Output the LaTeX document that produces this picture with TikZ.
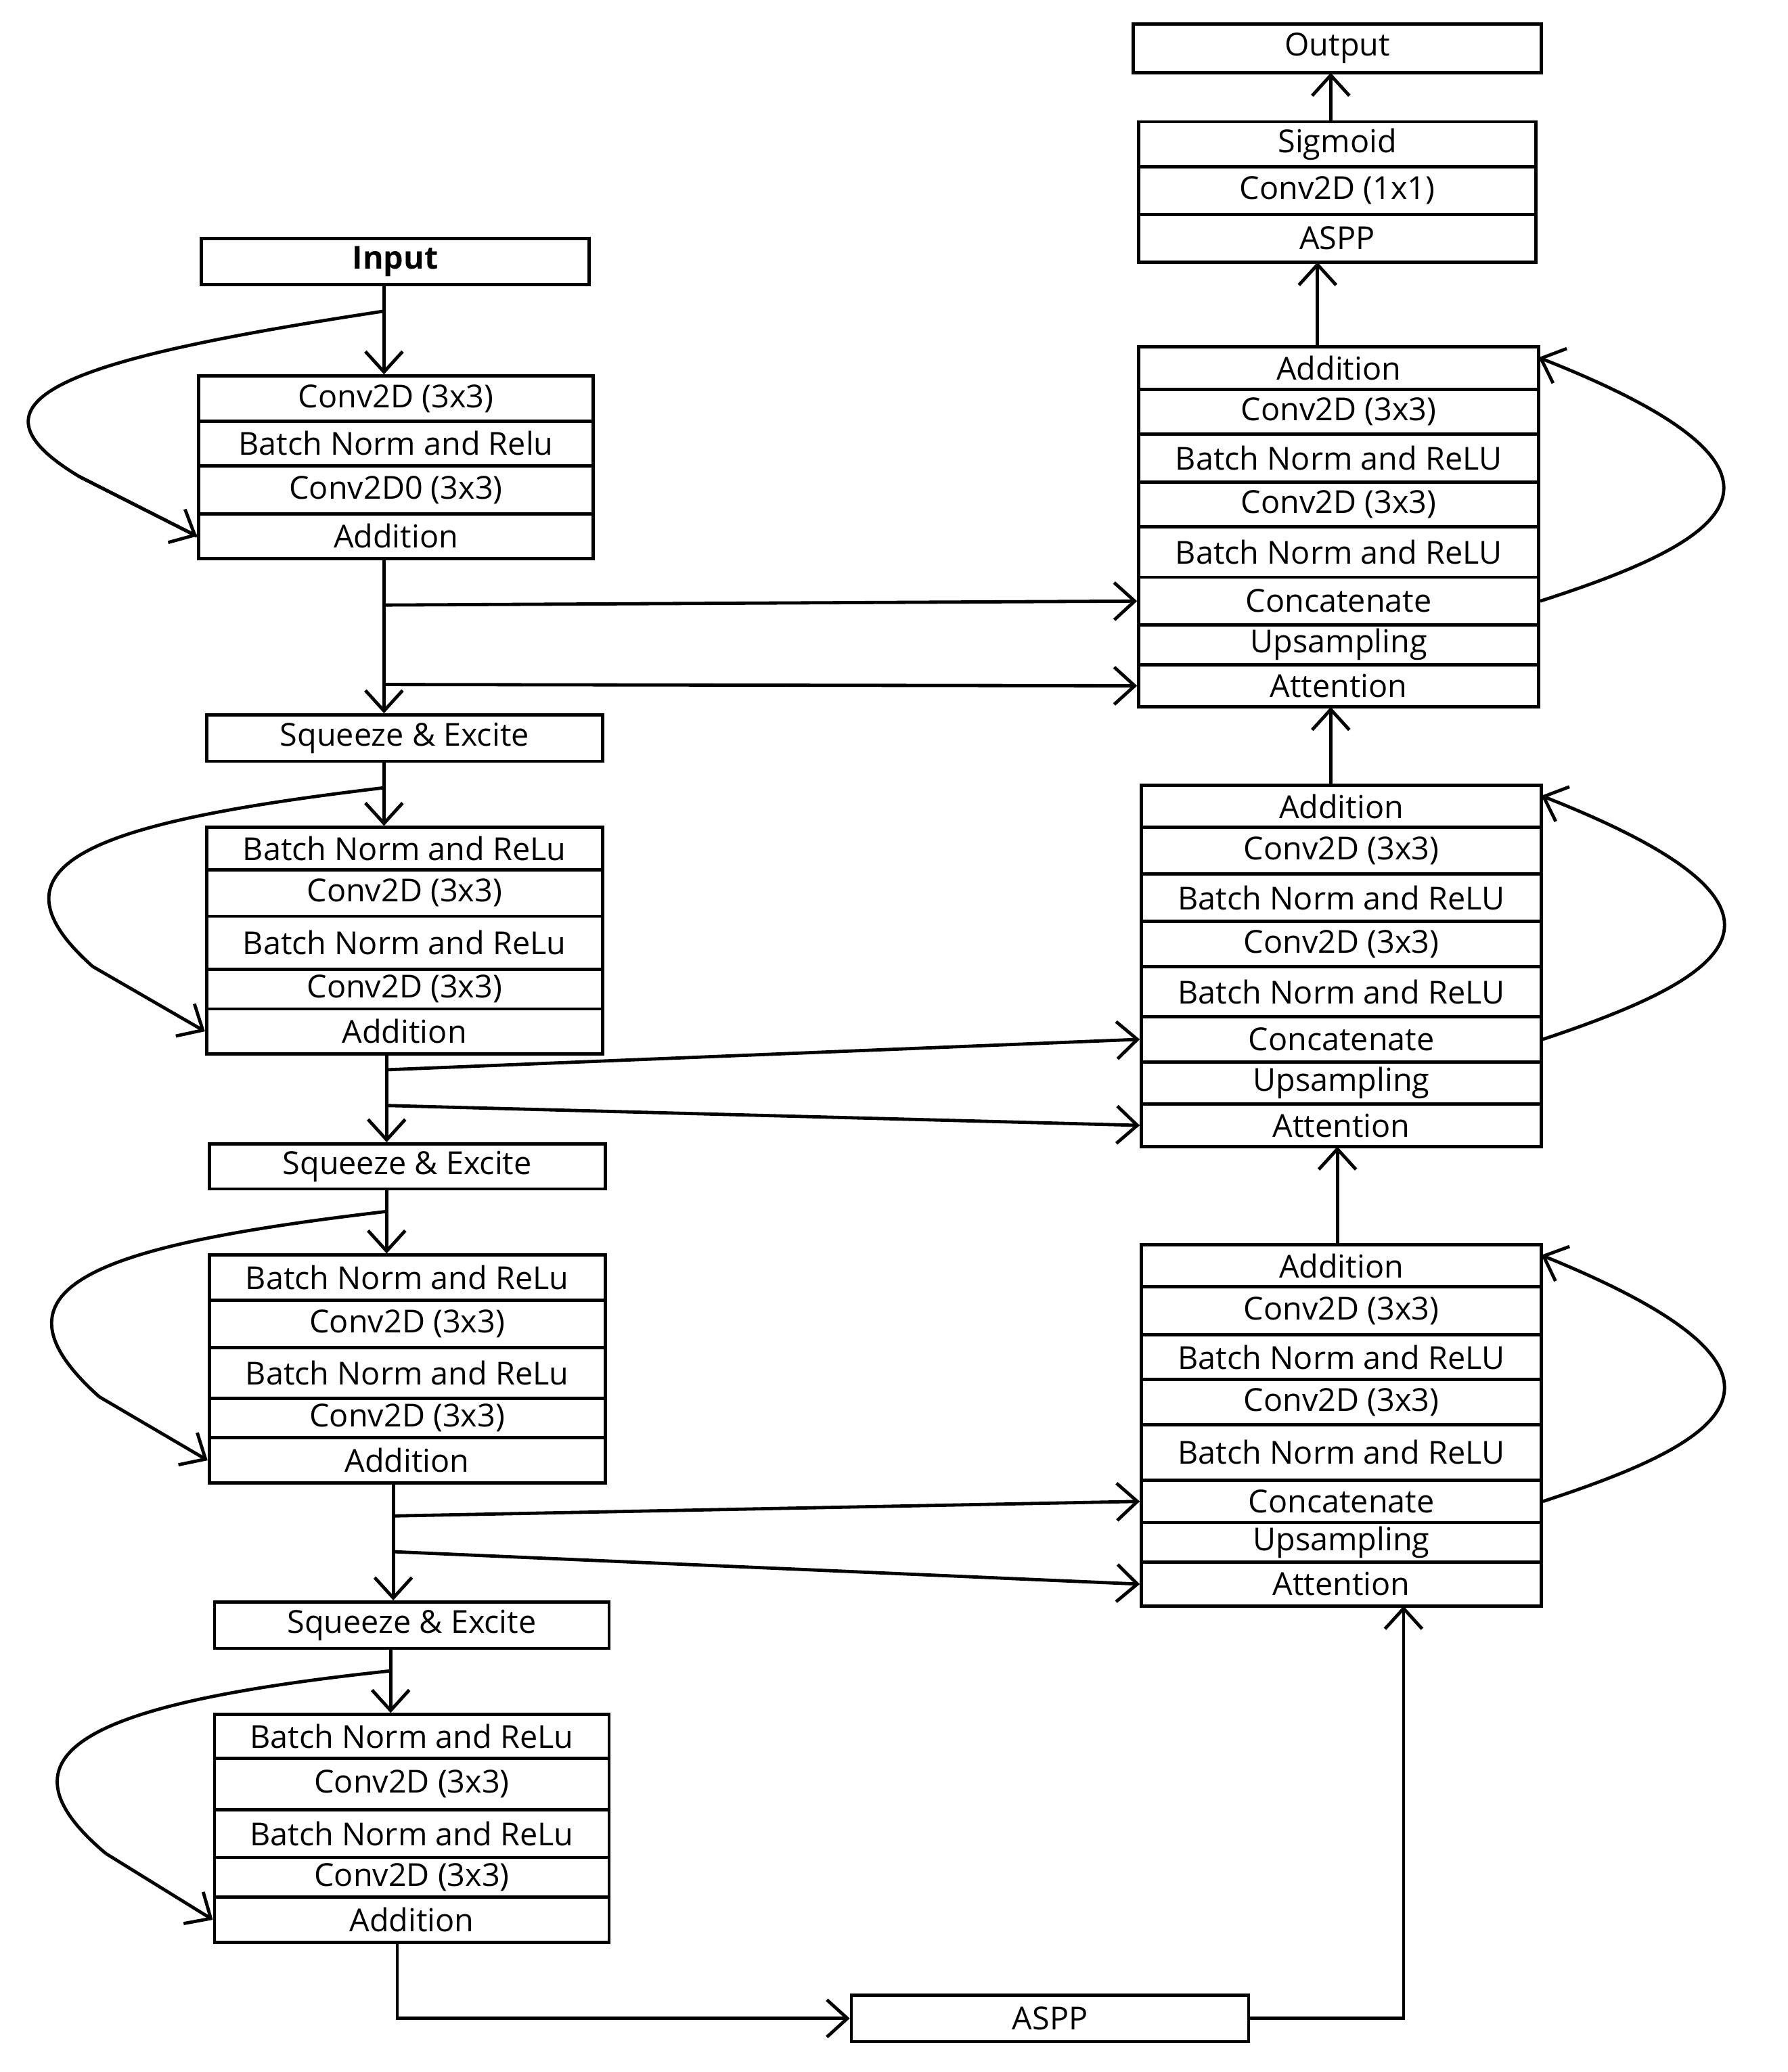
\documentclass[tikz,border=0pt]{standalone}
\usepackage{fontspec}
\setmainfont{Open Sans}
\usetikzlibrary{arrows.meta}
\newcommand\rw[6]{\node[rowbox, minimum width={(#4-#2)*0.05cm}, minimum height={(#5-#3)*0.05cm}] (#1) at ({(#2+#4)/2},{(#3+#5)/2}) {#6};}
\begin{document}
\begin{tikzpicture}[x=0.05cm,y=-0.05cm,
  rowbox/.style={draw, line width=3.5pt, inner sep=0pt, font=\fontsize{34}{40}\selectfont},
  ar/.style={line width=3.5pt, -{Straight Barb[length=22pt,width=40pt,line width=3.5pt]}},
  ln/.style={line width=3.5pt}]
\useasboundingbox (0,0) rectangle (1350,1565);
% encoder
\rw{in}{152}{180}{445}{215}{\textbf{Input}}
\rw{a1}{150}{284}{448}{318}{Conv2D (3x3)}
\rw{a2}{150}{318}{448}{352}{Batch Norm and Relu}
\rw{a3}{150}{352}{448}{388}{Conv2D0 (3x3)}
\rw{a4}{150}{388}{448}{422}{Addition}
\rw{se1}{156}{540}{455}{575}{Squeeze \& Excite}
\rw{b1}{156}{625}{455}{657}{Batch Norm and ReLu}
\rw{b2}{156}{657}{455}{692}{Conv2D (3x3)}
\rw{b3}{156}{692}{455}{732}{Batch Norm and ReLu}
\rw{b4}{156}{732}{455}{762}{Conv2D (3x3)}
\rw{b5}{156}{762}{455}{796}{Addition}
\rw{se2}{158}{864}{457}{898}{Squeeze \& Excite}
\rw{c1}{158}{948}{457}{982}{Batch Norm and ReLu}
\rw{c2}{158}{982}{457}{1018}{Conv2D (3x3)}
\rw{c3}{158}{1018}{457}{1056}{Batch Norm and ReLu}
\rw{c4}{158}{1056}{457}{1086}{Conv2D (3x3)}
\rw{c5}{158}{1086}{457}{1120}{Addition}
\rw{se3}{162}{1210}{460}{1245}{Squeeze \& Excite}
\rw{d1}{162}{1295}{460}{1328}{Batch Norm and ReLu}
\rw{d2}{162}{1328}{460}{1367}{Conv2D (3x3)}
\rw{d3}{162}{1367}{460}{1403}{Batch Norm and ReLu}
\rw{d4}{162}{1403}{460}{1433}{Conv2D (3x3)}
\rw{d5}{162}{1433}{460}{1467}{Addition}
\rw{aspp}{643}{1507}{943}{1542}{ASPP}
% decoder top
\rw{t1}{860}{262}{1162}{294}{Addition}
\rw{t2}{860}{294}{1162}{328}{Conv2D (3x3)}
\rw{t3}{860}{328}{1162}{364}{Batch Norm and ReLU}
\rw{t4}{860}{364}{1162}{398}{Conv2D (3x3)}
\rw{t5}{860}{398}{1162}{436}{Batch Norm and ReLU}
\rw{t6}{860}{436}{1162}{472}{Concatenate}
\rw{t7}{860}{472}{1162}{502}{Upsampling}
\rw{t8}{860}{502}{1162}{534}{Attention}
\rw{m1}{862}{593}{1164}{625}{Addition}
\rw{m2}{862}{625}{1164}{660}{Conv2D (3x3)}
\rw{m3}{862}{660}{1164}{696}{Batch Norm and ReLU}
\rw{m4}{862}{696}{1164}{730}{Conv2D (3x3)}
\rw{m5}{862}{730}{1164}{768}{Batch Norm and ReLU}
\rw{m6}{862}{768}{1164}{802}{Concatenate}
\rw{m7}{862}{802}{1164}{834}{Upsampling}
\rw{m8}{862}{834}{1164}{866}{Attention}
\rw{n1}{862}{940}{1164}{972}{Addition}
\rw{n2}{862}{972}{1164}{1008}{Conv2D (3x3)}
\rw{n3}{862}{1008}{1164}{1042}{Batch Norm and ReLU}
\rw{n4}{862}{1042}{1164}{1076}{Conv2D (3x3)}
\rw{n5}{862}{1076}{1164}{1118}{Batch Norm and ReLU}
\rw{n6}{862}{1118}{1164}{1150}{Concatenate}
\rw{n7}{862}{1150}{1164}{1180}{Upsampling}
\rw{n8}{862}{1180}{1164}{1213}{Attention}
\rw{h1}{860}{92}{1160}{126}{Sigmoid}
\rw{h2}{860}{126}{1160}{162}{Conv2D (1x1)}
\rw{h3}{860}{162}{1160}{198}{ASPP}
\rw{out}{856}{18}{1164}{55}{Output}
% encoder vertical flow
\coordinate (p0) at (290,235);
\draw[ln] (290,215) -- (p0);
\draw[ar] (p0) -- (a1.north -| p0);
\draw[ln] (p0) .. controls (60,270) and (-40,300) .. (60,360) -- (a4.west);
\draw[ar] (60,360) -- (a4.west);
\draw[ar] (290,422) -- (se1.north -| 290,0);
\draw[ar] (290,457) -- (t6.west);
\draw[ar] (290,517) -- (t8.west);
\coordinate (p1) at (290,595);
\draw[ln] (290,575) -- (p1);
\draw[ar] (p1) -- (b1.north -| p1);
\draw[ln] (p1) .. controls (80,620) and (-20,650) .. (70,730);
\draw[ar] (70,730) -- (b5.west);
\draw[ar] (292,796) -- (se2.north -| 292,0);
\draw[ar] (292,808) -- (m6.west);
\draw[ar] (292,835) -- (m8.west);
\coordinate (p2) at (292,915);
\draw[ln] (292,898) -- (p2);
\draw[ar] (p2) -- (c1.north -| p2);
\draw[ln] (p2) .. controls (80,940) and (-20,970) .. (75,1055);
\draw[ar] (75,1055) -- (c5.west);
\draw[ar] (297,1120) -- (se3.north -| 297,0);
\draw[ar] (297,1145) -- (n6.west);
\draw[ar] (297,1172) -- (n8.west);
\coordinate (p3) at (295,1262);
\draw[ln] (295,1245) -- (p3);
\draw[ar] (p3) -- (d1.north -| p3);
\draw[ln] (p3) .. controls (80,1285) and (-15,1320) .. (80,1400);
\draw[ar] (80,1400) -- (d5.west);
\draw[ar] (300,1467) |- (aspp.west);
\draw[ar] (aspp.east) -| (1060,1213);
% decoder flow
\draw[ar] (1010,940) -- (1010,866);
\draw[ar] (1005,593) -- (1005,534);
\draw[ar] (995,262) -- (995,198);
\draw[ar] (1005,92) -- (1005,55);
% decoder loops
\draw[ar] (t6.east) .. controls (1300,410) and (1390,360) .. (1162,270);
\draw[ar] (m6.east) .. controls (1300,740) and (1390,690) .. (1164,601);
\draw[ar] (n6.east) .. controls (1300,1090) and (1390,1040) .. (1164,948);
\end{tikzpicture}
\end{document}
